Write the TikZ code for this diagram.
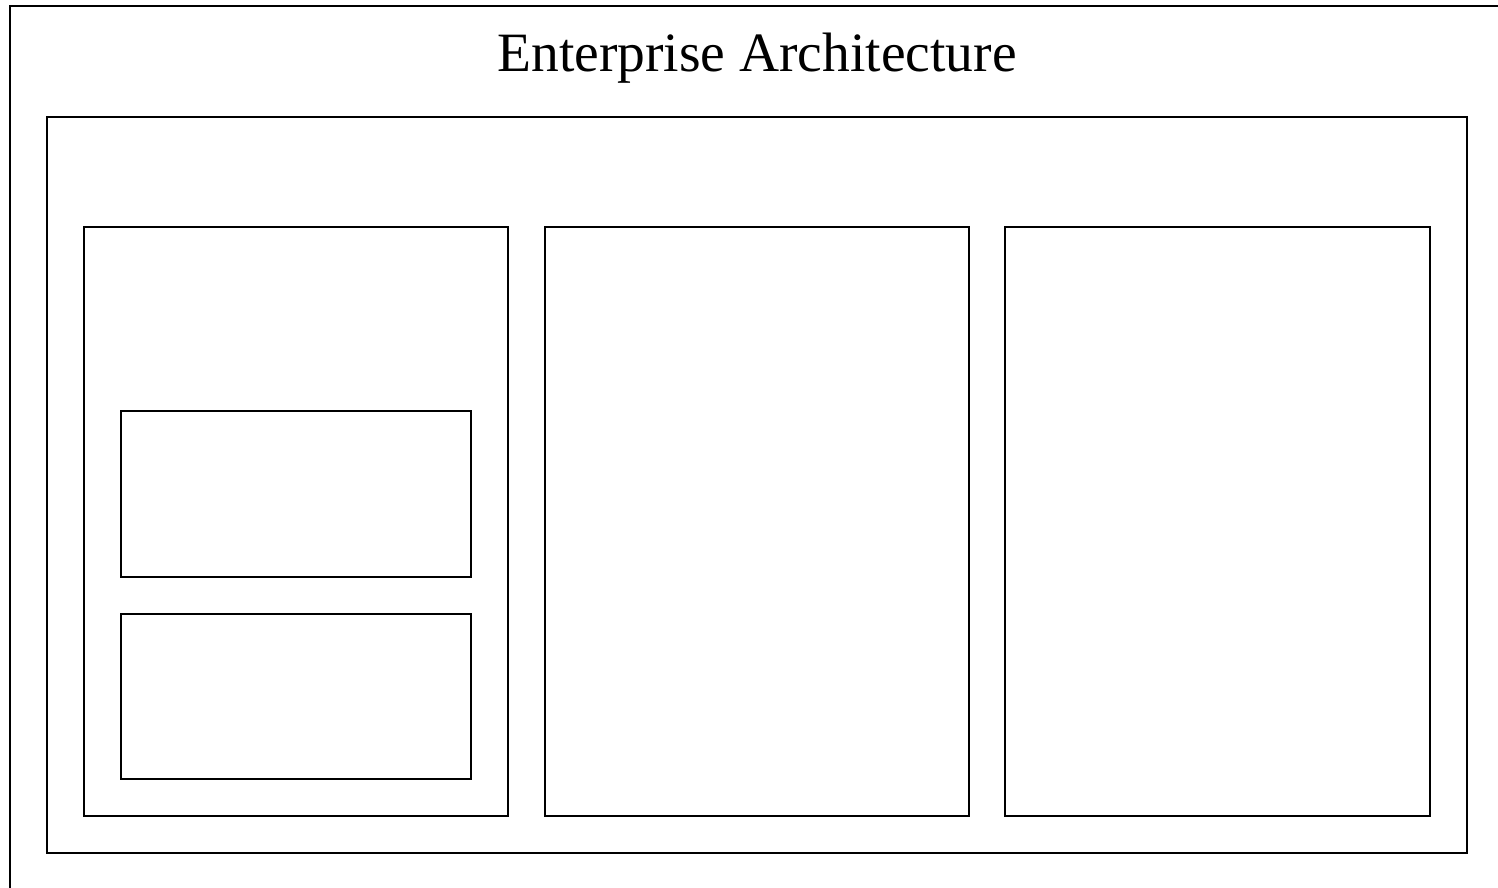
\documentclass[tikz,border=0pt]{standalone}
\usepackage{fontspec}
\setmainfont{Liberation Serif}
\begin{document}
\begin{tikzpicture}[x=1pt,y=-1pt,
  box/.style={draw=black, line width=2pt, fill=none, inner sep=0pt, outer sep=0pt, anchor=north west},
  title/.style={font=\fontsize{55.5}{60}\selectfont, inner sep=0pt}]
  \useasboundingbox (0,0) rectangle (1498,888);
  \clip (0,0) rectangle (1498,888);
  % enterprise frame, running off the page to the right and below
  \node[box, minimum width=1520pt, minimum height=920pt] (frame) at (10,6) {};
  \node[title] (ttl) at (757,58) {Enterprise Architecture};
  % main container
  \node[box, minimum width=1420pt, minimum height=736pt] (main) at (47,117) {};
  % three columns
  \node[box, minimum width=424pt, minimum height=589pt] (colA) at (84,227) {};
  \node[box, minimum width=424pt, minimum height=589pt] (colB) at (545,227) {};
  \node[box, minimum width=425pt, minimum height=589pt] (colC) at (1005,227) {};
  % two blocks inside the first column
  \node[box, minimum width=350pt, minimum height=166pt] (blkA) at (121,411) {};
  \node[box, minimum width=350pt, minimum height=165pt] (blkB) at (121,614) {};
\end{tikzpicture}
\end{document}
